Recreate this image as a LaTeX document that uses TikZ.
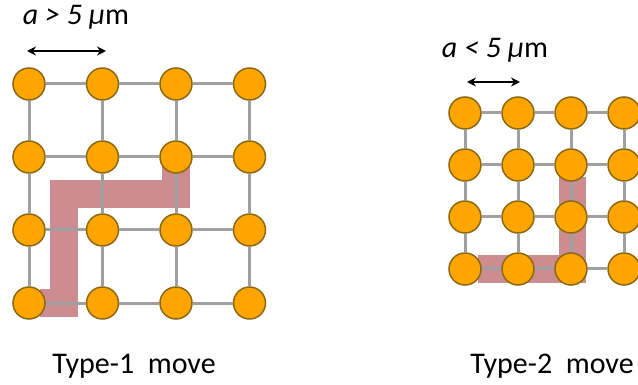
\documentclass[tikz,border=0pt]{standalone}
\usepackage{fontspec}
\setmainfont{Carlito}
\usepackage{xcolor}
\usetikzlibrary{arrows.meta}
\definecolor{atomfill}{HTML}{FFA500}
\definecolor{atomedge}{HTML}{8C6A14}
\definecolor{bondgray}{HTML}{A0A0A0}
\definecolor{pathred}{HTML}{CC8C90}
\tikzset{
  atom/.style={circle, draw=atomedge, line width=1.5pt, fill=atomfill, minimum size=32pt, inner sep=0pt},
  bond/.style={bondgray, line width=3pt},
  movepath/.style={pathred, line width=28pt, miter limit=10},
  spacing/.style={<->, line width=2pt},
}

\begin{document}
\begin{tikzpicture}[>={Stealth[length=9pt,width=9pt]}, x=1pt, y=-1pt]
    \useasboundingbox (0,0) rectangle (638,385);
    % moves
    \draw[movepath] (40,303) -- (64,303) -- (64,194) -- (176,194) -- (176,167);
    \draw[movepath, line width=27pt] (478,269) -- (572,269) -- (572,177);
    % lattices
    \foreach \i in {0,...,3} {
        \foreach \j in {0,...,3} {
            \node[atom] (l\i\j) at (29+73.5*\i, 84+73*\j) {};
            \node[atom] (r\i\j) at (465+53*\i, 113+52*\j) {};
        }
    }
    \foreach \i/\k in {0/1,1/2,2/3} {
        \foreach \j in {0,...,3} {
            \draw[bond] (l\i\j) -- (l\k\j);
            \draw[bond] (l\j\i) -- (l\j\k);
            \draw[bond] (r\i\j) -- (r\k\j);
            \draw[bond] (r\j\i) -- (r\j\k);
        }
    }
    % spacing
    \draw[spacing] (27,51) -- (106,51);
    \node (lbl1) at (76,17) {\fontsize{30}{33}\selectfont\textit{a > 5 μ}m};
    \draw[spacing] (467,82) -- (520,82);
    \node (lbl2) at (495,50) {\fontsize{30}{33}\selectfont\textit{a < 5 μ}m};
    % captions
    \node (cap1) at (134,366) {\fontsize{30}{33}\selectfont Type-1~~move};
    \node (cap2) at (552,366) {\fontsize{30}{33}\selectfont Type-2~~move};
\end{tikzpicture}
\end{document}
